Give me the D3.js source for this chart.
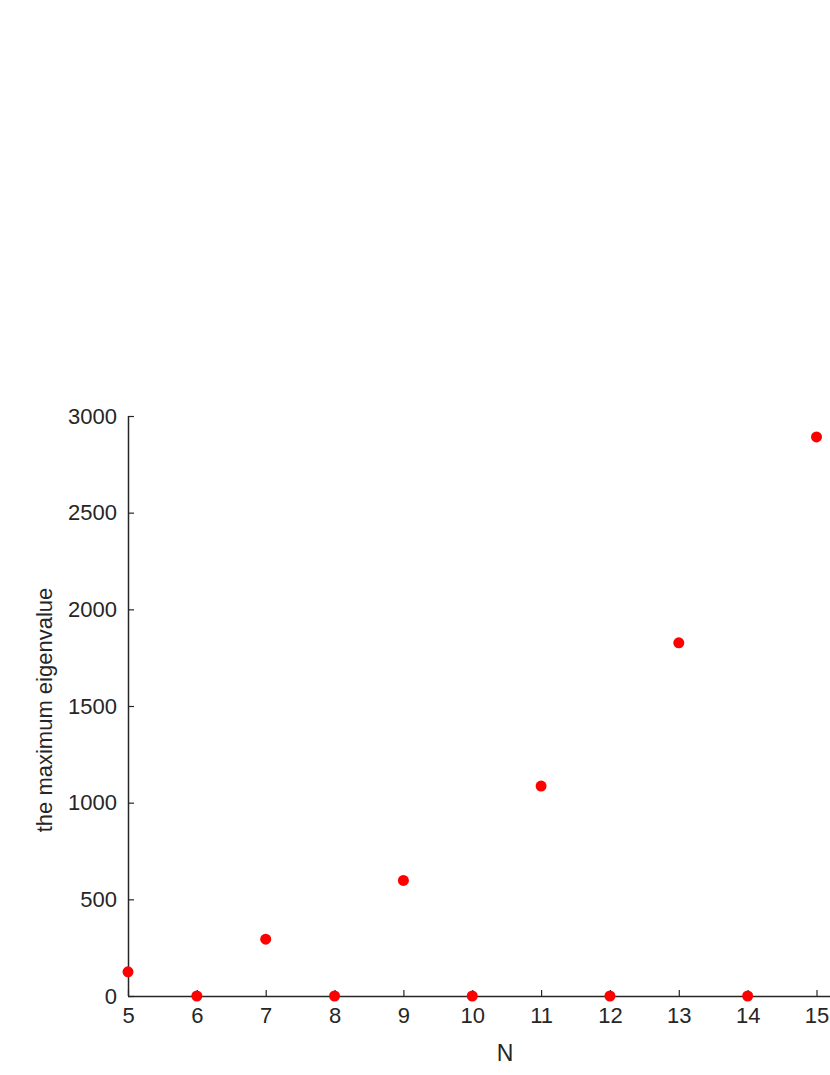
<!DOCTYPE html>
<html lang="en">
<head>
  <meta charset="UTF-8">
  <title>Maximum eigenvalue vs N</title>
  <script src="https://d3js.org/d3.v7.min.js"></script>
  <style>
    body {
      margin: 0;
      background: #fff;
      font-family: "Liberation Sans", Arial, sans-serif;
    }
    svg { display: block; }
    .tick text { fill: #262626; font-size: 22px; }
    .domain, .tick line { stroke: #262626; }
  </style>
</head>
<body>
  <svg id="chart" width="830" height="1075"></svg>

  <script>
    const nValues = [5, 6, 7, 8, 9, 10, 11, 12, 13, 14, 15];
    const maxEigen = [125, 0, 294, 0, 598, 0, 1086, 0, 1827, 0, 2892];
    const xTicks = [5, 6, 7, 8, 9, 10, 11, 12, 13, 14, 15];
    const yTicks = [0, 500, 1000, 1500, 2000, 2500, 3000];

    const svg = d3.select("#chart");

    const plotLeft = 128, plotBottom = 996, plotTop = 416;
    const x = d3.scaleLinear().domain([5, 15]).range([plotLeft, 816.5]);
    const y = d3.scaleLinear().domain([0, 3000]).range([plotBottom, plotTop]);

    // x axis runs on past the last tick to the edge of the picture
    const xAxis = d3.axisBottom(x).tickValues(xTicks).tickFormat(d3.format("d"))
      .tickSizeInner(-6).tickSizeOuter(0).tickPadding(11);
    const gx = svg.append("g")
      .attr("transform", `translate(0,${plotBottom})`)
      .call(xAxis);
    gx.select(".domain").attr("d", `M${plotLeft},0.5H840`);

    const yAxis = d3.axisLeft(y).tickValues(yTicks).tickFormat(d3.format("d"))
      .tickSizeInner(-6).tickSizeOuter(0).tickPadding(11);
    const gy = svg.append("g")
      .attr("transform", `translate(${plotLeft},0)`)
      .call(yAxis);
    gy.select(".domain").attr("d", `M0.5,${plotTop}V${plotBottom}`);

    svg.selectAll(".domain").attr("stroke-width", 1.5);
    svg.selectAll(".tick line").attr("stroke-width", 1.2);

    svg.append("g")
      .selectAll("circle")
      .data(nValues)
      .enter()
      .append("circle")
      .attr("cx", d => x(d))
      .attr("cy", (d, i) => y(maxEigen[i]))
      .attr("r", 5.5)
      .attr("fill", "#ff0000");

    svg.append("text")
      .attr("x", 505)
      .attr("y", 1061)
      .attr("text-anchor", "middle")
      .attr("fill", "#262626")
      .style("font-size", "23px")
      .text("N");

    svg.append("text")
      .attr("transform", "translate(52,710) rotate(-90)")
      .attr("text-anchor", "middle")
      .attr("fill", "#262626")
      .style("font-size", "22px")
      .text("the maximum eigenvalue");
  </script>
</body>
</html>
